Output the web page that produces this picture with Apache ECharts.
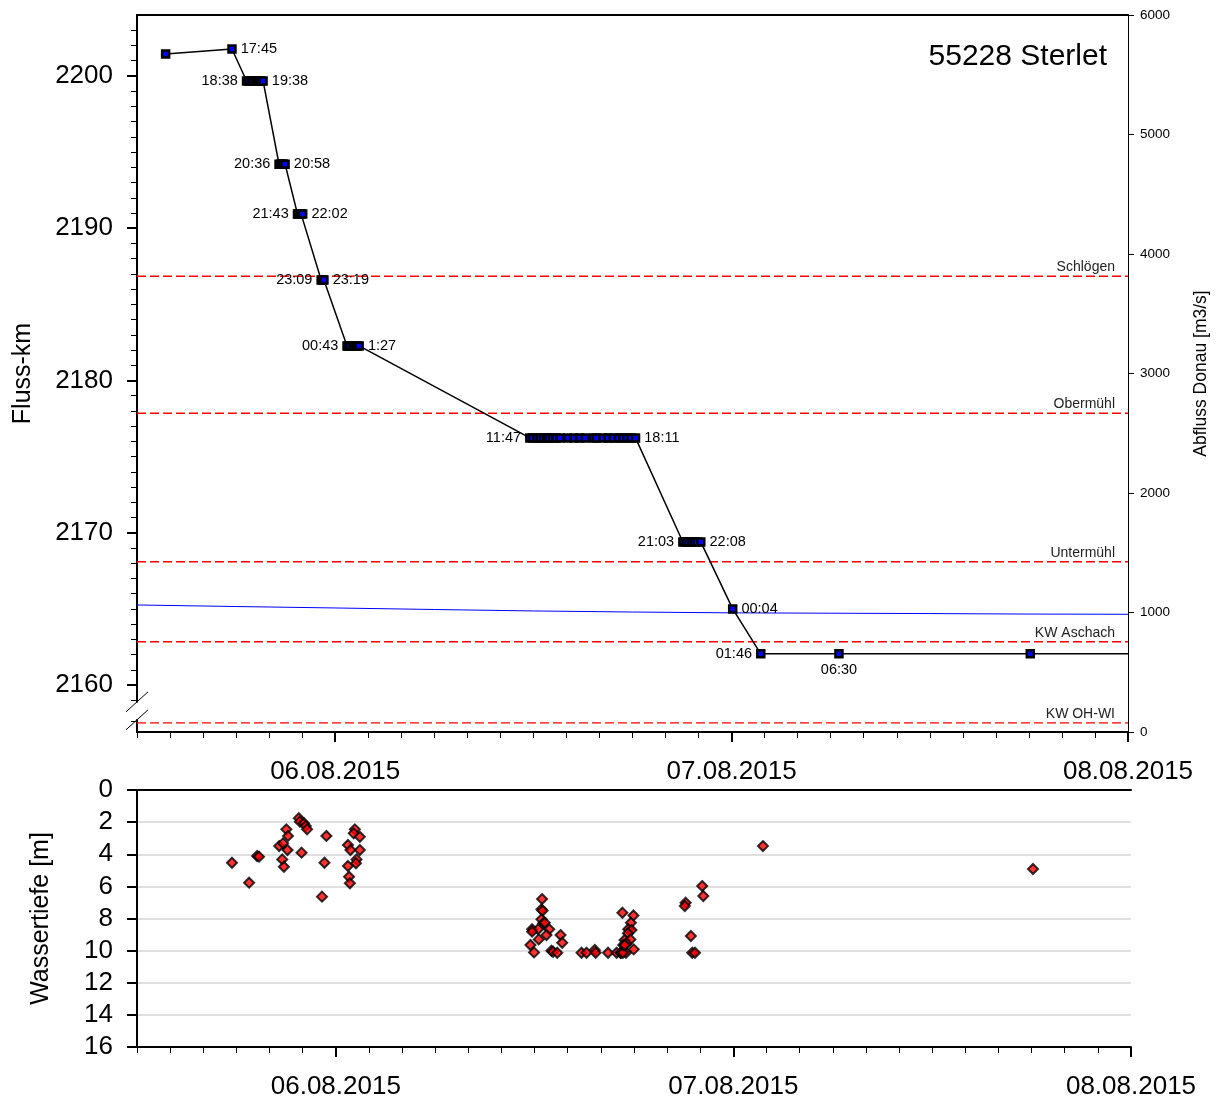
<!DOCTYPE html>
<html><head><meta charset="utf-8">
<script src="https://cdn.jsdelivr.net/npm/echarts@6/dist/echarts.min.js"></script>
<style>html,body{margin:0;padding:0;background:#fff}#c{width:1218px;height:1102px}</style>
</head><body><div id="c"></div>
<script>
// ---------- DATA ----------
const trackTimes = [
  '2015-08-05 13:44','2015-08-05 17:45',
  '2015-08-05 18:38','2015-08-05 18:46','2015-08-05 18:55','2015-08-05 19:05','2015-08-05 19:15','2015-08-05 19:22','2015-08-05 19:30','2015-08-05 19:38',
  '2015-08-05 20:36','2015-08-05 20:42','2015-08-05 20:49','2015-08-05 20:52','2015-08-05 20:58',
  '2015-08-05 21:43','2015-08-05 21:46','2015-08-05 21:50','2015-08-05 21:56','2015-08-05 22:02',
  '2015-08-05 23:09','2015-08-05 23:14','2015-08-05 23:19',
  '2015-08-06 00:43','2015-08-06 00:48','2015-08-06 00:53','2015-08-06 01:05','2015-08-06 01:13','2015-08-06 01:20','2015-08-06 01:27',
  '2015-08-06 11:47','2015-08-06 11:58','2015-08-06 12:13','2015-08-06 12:25','2015-08-06 12:37','2015-08-06 12:48','2015-08-06 12:57','2015-08-06 13:10','2015-08-06 13:22','2015-08-06 13:37','2015-08-06 14:05','2015-08-06 14:28','2015-08-06 14:48','2015-08-06 15:08','2015-08-06 15:38','2015-08-06 15:49',
  '2015-08-06 16:14','2015-08-06 16:32','2015-08-06 16:50','2015-08-06 17:09','2015-08-06 17:25','2015-08-06 17:40','2015-08-06 17:55','2015-08-06 18:11',
  '2015-08-06 21:03','2015-08-06 21:12','2015-08-06 21:22','2015-08-06 21:34','2015-08-06 21:45','2015-08-06 21:55','2015-08-06 22:08',
  '2015-08-07 00:04','2015-08-07 01:46','2015-08-07 06:30','2015-08-07 18:05','2015-08-08 00:00'
];
const trackKm = [
  2201.44, 2201.77,
  2199.67,2199.67,2199.67,2199.67,2199.67,2199.67,2199.67,2199.67,
  2194.2,2194.2,2194.2,2194.2,2194.2,
  2190.94,2190.94,2190.94,2190.94,2190.94,
  2186.6,2186.6,2186.6,
  2182.27,2182.27,2182.27,2182.27,2182.27,2182.27,2182.27,
  2176.23,2176.23,2176.23,2176.23,2176.23,2176.23,2176.23,2176.23,2176.23,2176.23,2176.23,2176.23,2176.23,2176.23,2176.23,2176.23,
  2176.23,2176.23,2176.23,2176.23,2176.23,2176.23,2176.23,2176.23,
  2169.4,2169.4,2169.4,2169.4,2169.4,2169.4,2169.4,
  2165.0, 2162.05, 2162.05, 2162.05, 2162.05
];
const trackLabels = [
  '', '17:45',
  '18:38','','','','','','','19:38',
  '20:36','','','','20:58',
  '21:43','','','','22:02',
  '23:09','','23:19',
  '00:43','','','','','','1:27',
  '11:47','','','','','','','','','','','','','','','',
  '','','','','','','','18:11',
  '21:03','','','','','','22:08',
  '00:04','01:46','06:30','',''
];
const dischargeTimes = ['2015-08-05 12:00','2015-08-05 18:00','2015-08-06 00:00','2015-08-06 06:00','2015-08-06 12:00','2015-08-06 18:00','2015-08-07 00:00','2015-08-07 06:00','2015-08-07 12:00','2015-08-07 18:00','2015-08-08 00:00'];
const dischargeValues = [1063, 1050, 1038, 1025, 1013, 1004, 997, 994, 991, 987, 985];

const depthTimes = [
  '2015-08-05 17:44','2015-08-05 18:46','2015-08-05 19:15','2015-08-05 19:22','2015-08-05 20:35','2015-08-05 20:49','2015-08-05 21:01','2015-08-05 21:07','2015-08-05 21:05','2015-08-05 20:46','2015-08-05 20:52',
  '2015-08-05 21:46','2015-08-05 21:50','2015-08-05 22:05','2015-08-05 22:11','2015-08-05 22:16','2015-08-05 21:56','2015-08-05 23:26','2015-08-05 23:19','2015-08-05 23:10',
  '2015-08-06 01:09','2015-08-06 01:05','2015-08-06 01:27','2015-08-06 00:44','2015-08-06 00:53','2015-08-06 01:27','2015-08-06 01:15','2015-08-06 01:13','2015-08-06 00:44','2015-08-06 00:48','2015-08-06 00:51',
  '2015-08-06 12:27','2015-08-06 12:25','2015-08-06 12:29','2015-08-06 12:25','2015-08-06 12:31','2015-08-06 12:37','2015-08-06 11:51','2015-08-06 12:13','2015-08-06 12:53','2015-08-06 11:51','2015-08-06 12:43','2015-08-06 12:15','2015-08-06 13:34','2015-08-06 13:40','2015-08-06 11:45','2015-08-06 11:58','2015-08-06 13:01','2015-08-06 13:07','2015-08-06 13:22',
  '2015-08-06 14:50','2015-08-06 15:08','2015-08-06 15:38','2015-08-06 15:41','2015-08-06 16:26','2015-08-06 16:57','2015-08-06 17:11','2015-08-06 17:31','2015-08-06 17:14','2015-08-06 17:20',
  '2015-08-06 17:18','2015-08-06 17:58','2015-08-06 17:49','2015-08-06 17:39','2015-08-06 17:51','2015-08-06 17:38','2015-08-06 17:26','2015-08-06 17:47','2015-08-06 17:33','2015-08-06 17:21','2015-08-06 17:59','2015-08-06 17:27',
  '2015-08-06 21:07','2015-08-06 21:04','2015-08-06 22:07','2015-08-06 22:11','2015-08-06 21:26','2015-08-06 21:31','2015-08-06 21:41',
  '2015-08-07 01:47','2015-08-07 18:05'
];
const depthValues = [
  4.53,5.77,4.11,4.15,3.49,3.32,2.45,2.86,3.74,4.32,4.78,
  1.76,1.97,2.07,2.24,2.45,3.90,2.86,4.53,6.64,
  2.45,2.70,2.91,3.42,3.74,3.74,4.32,4.56,4.73,5.40,5.81,
  6.79,7.43,7.52,8.05,8.30,8.26,8.67,8.67,8.67,8.82,9.03,9.30,9.03,9.51,9.65,10.11,10.01,10.07,10.13,
  10.13,10.13,9.96,10.13,10.13,10.13,10.13,10.13,10.13,10.13,
  7.64,7.81,8.26,8.67,8.72,8.92,9.34,9.30,9.55,9.65,9.92,9.65,
  7.02,7.22,5.98,6.60,9.09,10.13,10.13,
  3.49,4.92
];
const refNames = ['Schlögen','Obermühl','Untermühl','KW Aschach','KW OH-WI'];
const refKm = [2186.85, 2177.85, 2168.1, 2162.85, 2146.9];

const kmTicks = [2160, 2170, 2180, 2190, 2200];
const dayTicks = ['2015-08-06 00:00','2015-08-07 00:00','2015-08-08 00:00'];
const titleText = '55228 Sterlet';

// ---------- HELPERS ----------
const FONT = '"Liberation Sans", Arial, sans-serif';
function T(s){ return new Date(s.replace(' ','T')+':00').getTime(); }
function pad(n){ return (n<10?'0':'')+n; }
function dayFmt(v){ const d=new Date(v); return pad(d.getDate())+'.'+pad(d.getMonth()+1)+'.'+d.getFullYear(); }
function plain(v){ return String(v); }
const xMin = T('2015-08-05 12:00'), xMax = T('2015-08-08 00:00');
const dayTickVals = dayTicks.map(T);
const minorX = []; for (let v=xMin; v<=xMax; v+=2*3600*1000) minorX.push(v);
const kmMin = 2146.3, kmMax = 2204;
const kmBreak = {start: 2147.1, end: 2158.9, gap: 1.18};
const minorKm = [2147, 2159]; for (let k=2161;k<=2203;k++) if (k%10) minorKm.push(k);
const labelOverride = {'06:30':'bottom'};

const trackData = trackTimes.map((t,i)=>{
  const item = {value:[T(t), trackKm[i]]};
  if (i === trackTimes.length-1) item.symbol = 'none';
  if (trackLabels[i]) {
    let pos = (i+1<trackKm.length && trackKm[i+1]===trackKm[i]) ? 'left' : 'right';
    if (labelOverride[trackLabels[i]]) pos = labelOverride[trackLabels[i]];
    item.label = {show:true, formatter: trackLabels[i], position: pos, distance: 4};
  }
  return item;
});

const axisLineStyle = {color:'#000', width:2};
function majorX(grid){ return {
  type:'value', gridIndex:grid, position:'bottom', min:xMin, max:xMax,
  axisLine:{show:true, lineStyle:axisLineStyle, onZero:false},
  axisTick:{show:true, customValues:dayTickVals, length:10, lineStyle:{color:'#000', width:2}},
  axisLabel:{show:true, customValues:dayTickVals, formatter:dayFmt, fontSize:26, color:'#000', fontFamily:FONT, margin:27, hideOverlap:false},
  splitLine:{show:false}
};}
function minorXAxis(grid){ return {
  type:'value', gridIndex:grid, position:'bottom', min:xMin, max:xMax,
  axisLine:{show:false, onZero:false},
  axisTick:{show:true, customValues:minorX, length:6, lineStyle:{color:'#000', width:1}},
  axisLabel:{show:false}, splitLine:{show:false}
};}
function topX(grid){ return {
  type:'value', gridIndex:grid, position:'top', min:xMin, max:xMax,
  axisLine:{show:true, lineStyle:axisLineStyle, onZero:false},
  axisTick:{show:false}, axisLabel:{show:false}, splitLine:{show:false}
};}

const refSeries = refNames.map((n,i)=>({
  type:'line', name:n, xAxisIndex:0, yAxisIndex:0, silent:true, z:3,
  symbol:'none', showSymbol:false,
  color:'#ff0000',
  lineStyle:{color:'#ff0000', type:[9,4], width:1.4, opacity:1},
  emphasis:{disabled:true},
  endLabel:{show:true, formatter:n, align:'right', verticalAlign:'bottom', distance:0, offset:[-13,-2],
            color:'#222', fontSize:14, fontFamily:FONT},
  data:[[xMin, refKm[i]],[xMax, refKm[i]]]
}));

const chart = echarts.init(document.getElementById('c'), null, {renderer:'canvas'});
chart.setOption({
  animation:false,
  backgroundColor:'#fff',
  textStyle:{fontFamily:FONT},
  title:{text:titleText, right:111, top:42, padding:0, textStyle:{fontSize:30, fontWeight:'normal', color:'#000', fontFamily:FONT}},
  grid:[
    {left:137, top:15, width:994, height:717},
    {left:137, top:790, width:994, height:257}
  ],
  xAxis:[majorX(0), minorXAxis(0), topX(0), majorX(1), minorXAxis(1), topX(1)],
  yAxis:[
    {type:'value', gridIndex:0, position:'left', min:kmMin, max:kmMax, breaks:[kmBreak], breakArea:{show:false},
     axisLine:{show:true, lineStyle:axisLineStyle, onZero:false},
     axisTick:{show:true, customValues:kmTicks, length:10, lineStyle:{color:'#000', width:2}},
     axisLabel:{show:true, customValues:kmTicks, formatter:plain, fontSize:26, color:'#000', fontFamily:FONT, margin:24},
     splitLine:{show:false},
     name:'Fluss-km', nameLocation:'middle', nameRotate:90, nameGap:101,
     nameTextStyle:{fontSize:25, color:'#000', fontFamily:FONT}},
    {type:'value', gridIndex:0, position:'left', min:kmMin, max:kmMax, breaks:[kmBreak], breakArea:{show:false},
     axisLine:{show:false, onZero:false},
     axisTick:{show:true, customValues:minorKm, length:6, lineStyle:{color:'#000', width:1}},
     axisLabel:{show:false}, splitLine:{show:false}},
    {type:'value', gridIndex:0, position:'right', min:0, max:6000, interval:1000,
     axisLine:{show:true, lineStyle:{color:'#000', width:1}, onZero:false},
     axisTick:{show:true, length:6, lineStyle:{color:'#000', width:1}},
     axisLabel:{formatter:plain, fontSize:13.5, color:'#000', fontFamily:FONT, margin:12},
     splitLine:{show:false},
     name:'Abfluss Donau [m3/s]', nameLocation:'middle', nameRotate:90, nameGap:64,
     nameTextStyle:{fontSize:17.5, color:'#000', fontFamily:FONT}},
    {type:'value', gridIndex:1, position:'left', min:0, max:16, interval:2, inverse:true,
     axisLine:{show:true, lineStyle:axisLineStyle, onZero:false},
     axisTick:{show:true, length:10, lineStyle:{color:'#000', width:2}},
     axisLabel:{formatter:plain, fontSize:26, color:'#000', fontFamily:FONT, margin:24},
     splitLine:{show:true, lineStyle:{color:'#d6d6d6', width:1.5}},
     name:'Wassertiefe [m]', nameLocation:'middle', nameRotate:90, nameGap:83,
     nameTextStyle:{fontSize:25, color:'#000', fontFamily:FONT}}
  ],
  series:[
    ...refSeries,
    {type:'line', name:'Abfluss', xAxisIndex:0, yAxisIndex:2, showSymbol:false, symbol:'none',
     data:dischargeTimes.map((t,i)=>[T(t), dischargeValues[i]]),
     lineStyle:{color:'#0000ff', width:1}, z:2, silent:true},
    {type:'line', name:'Track', xAxisIndex:0, yAxisIndex:0, data:trackData,
     symbol:'rect', symbolSize:7, showAllSymbol:true,
     itemStyle:{color:'#0000ff', borderColor:'#000', borderWidth:2.5},
     lineStyle:{color:'#000', width:1.5},
     label:{color:'#000', fontSize:14.5, fontFamily:FONT},
     labelLayout:{hideOverlap:false},
     z:5},
    {type:'scatter', name:'Wassertiefe', xAxisIndex:3, yAxisIndex:3,
     data:depthTimes.map((t,i)=>[T(t), depthValues[i]]),
     symbol:'diamond', symbolSize:10,
     itemStyle:{color:'#ff0000', borderColor:'#000', borderWidth:2}}
  ]
});

// axis break marks on the left axis
const yHi = chart.convertToPixel({yAxisIndex:0}, kmBreak.end);
const yLo = chart.convertToPixel({yAxisIndex:0}, kmBreak.start);
const ax = 137;
chart.setOption({graphic:[
  {type:'rect', shape:{x:ax-3, y:yHi+1, width:6, height:Math.max(0,yLo-yHi-2)}, style:{fill:'#fff'}, z:100},
  {type:'line', shape:{x1:ax-11, y1:yHi+10, x2:ax+11, y2:yHi-10}, style:{stroke:'#000', lineWidth:1}, z:101},
  {type:'line', shape:{x1:ax-11, y1:yLo+10, x2:ax+11, y2:yLo-10}, style:{stroke:'#000', lineWidth:1}, z:101}
]});
</script></body></html>
